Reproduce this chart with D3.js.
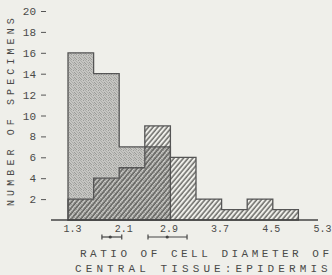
<html>
<head>
<script src="https://d3js.org/d3.v7.min.js"></script>
<style>
  body { margin: 0; background: #efefea; }
  text { font-family: "Liberation Mono", "DejaVu Sans Mono", monospace; fill: #4a4a48; }
</style>
</head>
<body>
<script>
// histogram bins (lower edges), width 0.4
var binStarts = [1.3, 1.7, 2.1, 2.5, 2.9, 3.3, 3.7, 4.1, 4.5]
var binWidth = 0.4
var stippled = [16, 14, 7, 7]
var hatched = [2, 4, 5, 9, 6, 2, 1, 2, 1]
var xTicks = [1.3, 2.1, 2.9, 3.7, 4.5, 5.3]
var yTicks = [2, 4, 6, 8, 10, 12, 14, 16, 18, 20]
var errLo = [1.83, 2.55]
var errMean = [1.96, 2.85]
var errHi = [2.14, 3.16]

var W = 332, H = 275

var x = d3.scaleLinear().domain([1.3, 5.3]).range([68, 324])
var y = d3.scaleLinear().domain([0, 20]).range([220, 11])

var svg = d3.select('body').append('svg').attr('width', W).attr('height', H)

var defs = svg.append('defs')
var st = defs.append('pattern').attr('id', 'stip').attr('patternUnits', 'userSpaceOnUse')
  .attr('width', 5).attr('height', 5)
st.append('rect').attr('width', 5).attr('height', 5).attr('fill', '#c6c6c2')
var dots = [[0, 0], [3, 0], [1, 1], [4, 2], [2, 2], [0, 3], [3, 3], [1, 4], [4, 4]]
dots.forEach(function (d, i) {
  st.append('rect').attr('x', d[0]).attr('y', d[1]).attr('width', 1).attr('height', 1)
    .attr('fill', i % 2 ? '#9a9a97' : '#adadaa')
})

var ht = defs.append('pattern').attr('id', 'hatch').attr('patternUnits', 'userSpaceOnUse')
  .attr('width', 3.6).attr('height', 10).attr('patternTransform', 'rotate(40)')
ht.append('line').attr('x1', 1).attr('x2', 1).attr('y1', 0).attr('y2', 10)
  .attr('stroke', '#4a4a48').attr('stroke-width', 1.2)

function stepPath(vals) {
  var p = 'M' + x(binStarts[0]) + ',' + y(0)
  vals.forEach(function (v, i) {
    p += 'L' + x(binStarts[i]) + ',' + y(v) + 'L' + x(binStarts[i] + binWidth) + ',' + y(v)
  })
  p += 'L' + x(binStarts[vals.length - 1] + binWidth) + ',' + y(0) + 'Z'
  return p
}

// stippled histogram
svg.append('path').attr('d', stepPath(stippled)).attr('fill', 'url(#stip)')
  .attr('stroke', '#555').attr('stroke-width', 1.3)

// hatched histogram on top
svg.append('path').attr('d', stepPath(hatched)).attr('fill', 'url(#hatch)')
  .attr('stroke', '#555').attr('stroke-width', 1.3)

// baseline
svg.append('line').attr('x1', 51).attr('x2', 318).attr('y1', y(0)).attr('y2', y(0))
  .attr('stroke', '#444').attr('stroke-width', 1.5)

// y axis
var ya = svg.append('g').attr('transform', 'translate(46,0)')
  .call(d3.axisLeft(y).tickValues(yTicks).tickSize(5).tickPadding(5))
ya.select('.domain').remove()
ya.selectAll('line').attr('stroke', '#555')
ya.selectAll('text').attr('font-size', 11).attr('fill', '#4a4a48').style('font-family', null)

// x axis (typed labels sit a little off their ticks)
var xa = svg.append('g').attr('transform', 'translate(0,' + y(0) + ')')
  .call(d3.axisBottom(x).tickValues(xTicks).tickSize(0).tickPadding(5).tickFormat(d3.format('.1f')))
xa.select('.domain').remove()
xa.selectAll('text').attr('font-size', 10).attr('fill', '#4a4a48').style('font-family', null)
  .attr('dx', (d, i) => i < 2 ? 4 : -2)

// error bars
var eb = svg.append('g')
errMean.forEach(function (m, i) {
  var yy = 237
  eb.append('line').attr('x1', x(errLo[i])).attr('x2', x(errHi[i])).attr('y1', yy).attr('y2', yy)
    .attr('stroke', '#444').attr('stroke-width', 1.2)
  ;[errLo[i], errHi[i]].forEach(function (v) {
    eb.append('line').attr('x1', x(v)).attr('x2', x(v)).attr('y1', yy - 2.5).attr('y2', yy + 2.5)
      .attr('stroke', '#444').attr('stroke-width', 1.2)
  })
  eb.append('circle').attr('cx', x(m)).attr('cy', yy).attr('r', 1.6).attr('fill', '#444')
})

// titles
svg.append('text').attr('x', 80).attr('y', 257).attr('font-size', 11)
  .attr('letter-spacing', 3.5)
  .text('RATIO OF CELL DIAMETER OF')
svg.append('text').attr('x', 75).attr('y', 272).attr('font-size', 11)
  .attr('letter-spacing', 4.1)
  .text('CENTRAL TISSUE:EPIDERMIS')
svg.append('text').attr('transform', 'translate(14,206) rotate(-90)').attr('font-size', 10)
  .attr('letter-spacing', 4.1)
  .text('NUMBER OF SPECIMENS')
</script>
</body>
</html>
